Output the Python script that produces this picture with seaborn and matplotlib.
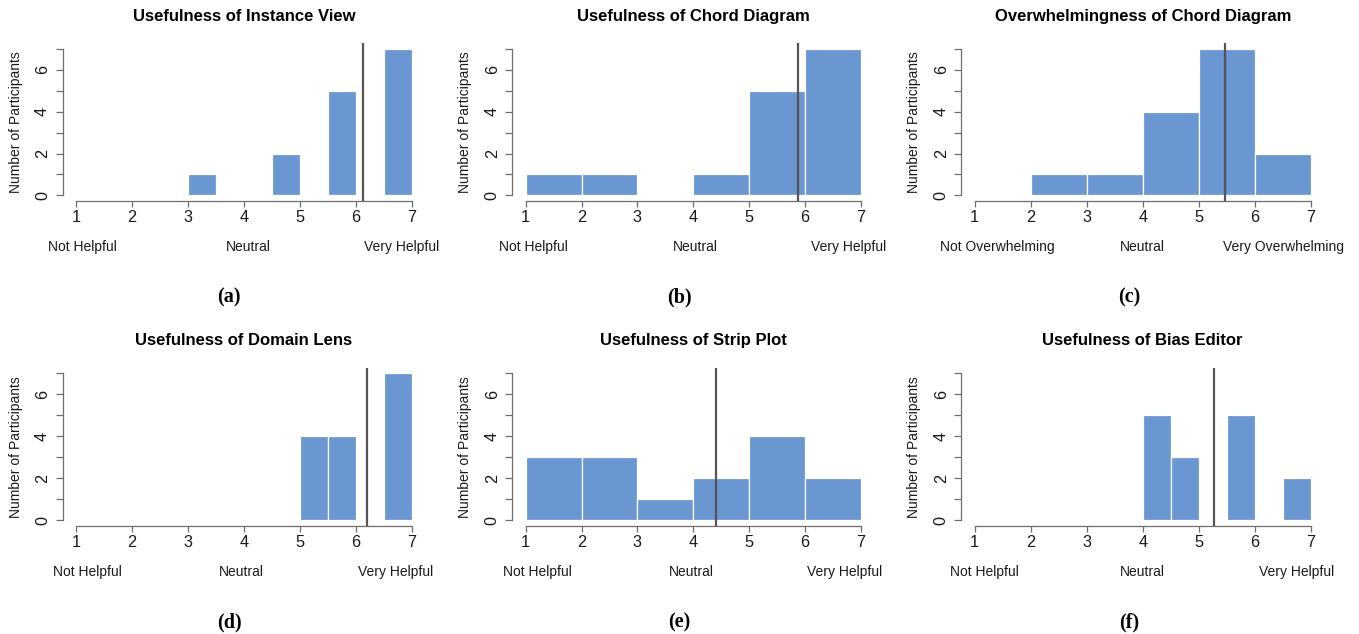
import matplotlib
matplotlib.use("Agg")
import matplotlib.pyplot as plt
import numpy as np
import pandas as pd
import seaborn as sns

# ---- data -------------------------------------------------------------
titles = [
    "Usefulness of Instance View",
    "Usefulness of Chord Diagram",
    "Overwhelmingness of Chord Diagram",
    "Usefulness of Domain Lens",
    "Usefulness of Strip Plot",
    "Usefulness of Bias Editor",
]
captions = ["(a)", "(b)", "(c)", "(d)", "(e)", "(f)"]

half_edges = [1, 1.5, 2, 2.5, 3, 3.5, 4, 4.5, 5, 5.5, 6, 6.5, 7]
unit_edges = [1, 2, 3, 4, 5, 6, 7]

counts_instance_view = [0, 0, 0, 0, 1, 0, 0, 2, 0, 5, 0, 7]
counts_chord_useful = [1, 1, 0, 1, 5, 7]
counts_chord_overwhelm = [0, 1, 1, 4, 7, 2]
counts_domain_lens = [0, 0, 0, 0, 0, 0, 0, 0, 4, 4, 0, 7]
counts_strip_plot = [3, 3, 1, 2, 4, 2]
counts_bias_editor = [0, 0, 0, 0, 0, 0, 5, 3, 0, 5, 0, 2]

panel_edges = [half_edges, unit_edges, unit_edges, half_edges, unit_edges, half_edges]
panel_counts = [
    counts_instance_view,
    counts_chord_useful,
    counts_chord_overwhelm,
    counts_domain_lens,
    counts_strip_plot,
    counts_bias_editor,
]
mean_scores = [6.13, 5.87, 5.47, 6.2, 4.4, 5.27]

x_ticks = [1, 2, 3, 4, 5, 6, 7]
y_major = [0, 2, 4, 6]
y_minor = [1, 3, 5, 7]

helpful_labels = ["Not Helpful", "Neutral", "Very Helpful"]
overwhelm_labels = ["Not Overwhelming", "Neutral", "Very Overwhelming"]
scale_labels = [helpful_labels, helpful_labels, overwhelm_labels,
                helpful_labels, helpful_labels, helpful_labels]

# ---- layout (pixels) ---------------------------------------------------
W, H = 1359, 634
col_left = [62.56, 512.3, 961.3]
col_right = [425.44, 874.1, 1324.1]
row_top = [43.1, 367.5]
row_bottom = [201.2, 525.9]
caption_x = [229, 679, 1129]
caption_y = [297, 622]
scale_label_x = [
    [1.11, 4.07, 6.81],
    [1.14, 4.04, 6.78],
    [1.40, 4.00, 6.52],
    [1.21, 3.95, 6.71],
    [1.21, 3.97, 6.72],
    [1.18, 4.00, 6.75],
]

sns.set_style("white")
plt.rcParams["font.family"] = ["Liberation Sans", "DejaVu Sans"]

BAR = "#6a96d1"
AXIS = "#6e6e6e"
MEAN = "#555555"
TXT = "#1a1a1a"

fig = plt.figure(figsize=(W / 100, H / 100), dpi=100)

for i in range(6):
    r, c = divmod(i, 3)
    left, right = col_left[c], col_right[c]
    top, bottom = row_top[r], row_bottom[r]
    ax = fig.add_axes([left / W, 1 - bottom / H, (right - left) / W, (bottom - top) / H])
    ax_h = bottom - top

    edges = list(panel_edges[i])
    centers = [(a + b) / 2 for a, b in zip(edges[:-1], edges[1:])]
    df = pd.DataFrame({"score": centers, "n": panel_counts[i]})
    sns.histplot(data=df, x="score", weights="n", bins=edges, ax=ax,
                 color=BAR, edgecolor="white", linewidth=0.9, alpha=1)

    # mean rating
    ax.axvline(mean_scores[i], color=MEAN, lw=1.6, zorder=5)

    ax.set_xlim(0.76, 7.24)
    ax.set_ylim(-0.28, 7.28)

    for s in ["top", "right"]:
        ax.spines[s].set_visible(False)
    ax.spines["left"].set_bounds(0, 7)
    ax.spines["bottom"].set_bounds(1, 7)
    for s in ["left", "bottom"]:
        ax.spines[s].set_color(AXIS)
        ax.spines[s].set_linewidth(0.9)

    ax.set_xticks(x_ticks)
    ax.set_xticklabels([str(t) for t in x_ticks])
    ax.set_yticks(y_major)
    ax.set_yticklabels([str(t) for t in y_major])
    ax.set_yticks(y_minor, minor=True)
    ax.tick_params(axis="x", direction="out", length=4.5, width=0.9, color=AXIS,
                   labelsize=11.7, labelcolor=TXT, pad=2, bottom=True)
    ax.tick_params(axis="y", which="both", direction="out", length=4.8, width=0.9,
                   color=AXIS, left=True)
    ax.tick_params(axis="y", which="major", labelsize=11.7, labelcolor=TXT,
                   labelrotation=90, pad=4.3)
    for lab in ax.get_yticklabels():
        lab.set_va("center")

    ax.set_xlabel("")
    ax.set_ylabel("Number of Participants", fontsize=10, color=TXT, va="center")
    ax.yaxis.set_label_coords(-47 / (right - left), 0.5)

    ax.text(0.5, 1 + 27 / ax_h, titles[i], transform=ax.transAxes,
            ha="center", va="center", fontsize=12, fontweight="bold", color="black")

    for xpos, lab in zip(scale_label_x[i], scale_labels[i]):
        ax.text(xpos, -46 / ax_h, lab, transform=ax.get_xaxis_transform(),
                ha="center", va="center", fontsize=10, color=TXT)

    fig.text(caption_x[c] / W, 1 - caption_y[r] / H, captions[i],
             ha="center", va="center", fontsize=14.5, fontweight="bold",
             family=["Liberation Serif", "DejaVu Serif"], color="black")

fig.savefig("out.png", dpi=100)
